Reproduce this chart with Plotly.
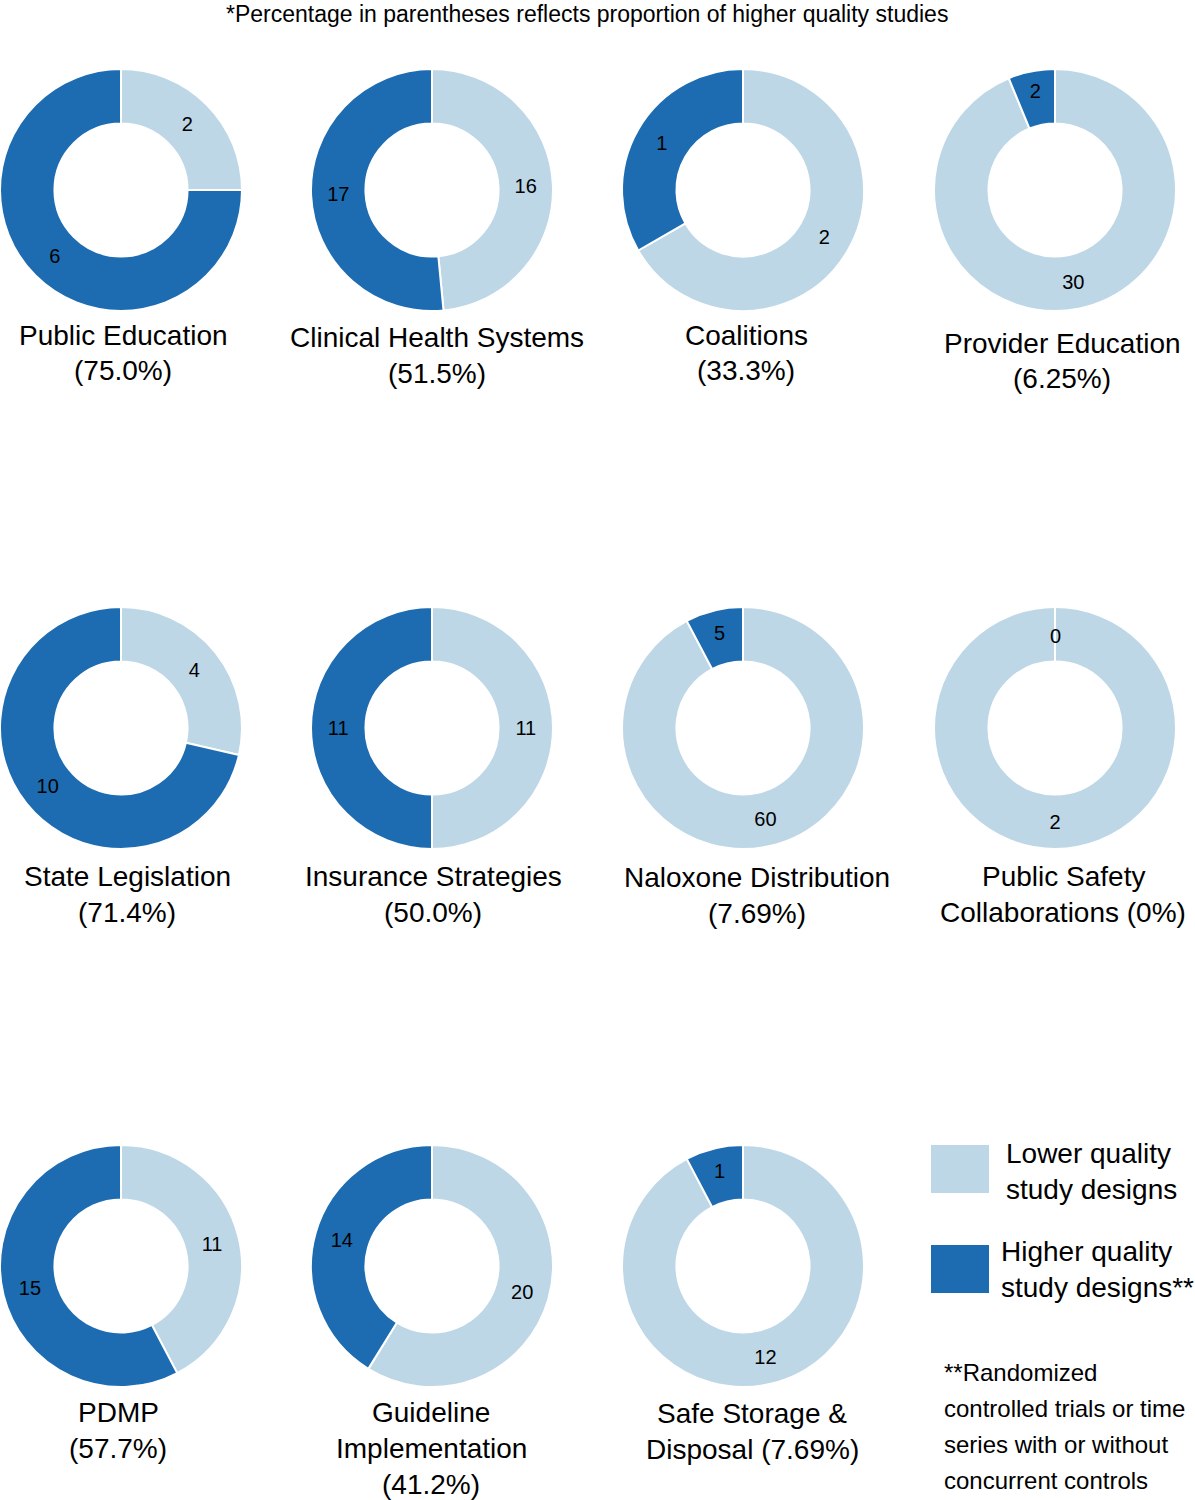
import plotly.graph_objects as go

W, H = 1195, 1500

categories = ["Public Education", "Clinical Health Systems", "Coalitions", "Provider Education",
              "State Legislation", "Insurance Strategies", "Naloxone Distribution", "Public Safety Collaborations",
              "PDMP", "Guideline Implementation", "Safe Storage & Disposal"]
title_lines = [["Public Education", "(75.0%)"],
               ["Clinical Health Systems", "(51.5%)"],
               ["Coalitions", "(33.3%)"],
               ["Provider Education", "(6.25%)"],
               ["State Legislation", "(71.4%)"],
               ["Insurance Strategies", "(50.0%)"],
               ["Naloxone Distribution", "(7.69%)"],
               ["Public Safety", "Collaborations (0%)"],
               ["PDMP", "(57.7%)"],
               ["Guideline", "Implementation", "(41.2%)"],
               ["Safe Storage &", "Disposal (7.69%)"]]
lower_quality = [2, 16, 2, 30, 4, 11, 60, 2, 11, 20, 12]
higher_quality = [6, 17, 1, 2, 10, 11, 5, 0, 15, 14, 1]
series_names = ["Lower quality study designs", "Higher quality study designs**"]

LIGHT = "#BDD7E7"
DARK = "#1D6CB1"
FONT = "Liberation Sans, Arial, sans-serif"

# layout (pixels)
col_cx = [121, 432, 743, 1055]
row_cy = [190, 728, 1266]
R = 121
title_x = [123, 437, 746, 1062, 127, 433, 757, 1063, 118, 431, 752]
title_y0 = [335, 337, 335, 343, 876, 876, 877, 876, 1412, 1412, 1413]
LINE_H = 36

fig = go.Figure()
for i, cat in enumerate(categories):
    r, c = divmod(i, 4)
    cx, cy = col_cx[c], row_cy[r]
    fig.add_trace(go.Pie(
        labels=series_names,
        values=[lower_quality[i], higher_quality[i]],
        sort=False,
        direction="clockwise",
        rotation=0,
        hole=0.55,
        marker=dict(colors=[LIGHT, DARK], line=dict(color="white", width=2)),
        textinfo="value",
        textposition="inside",
        insidetextorientation="horizontal",
        textfont=dict(size=20, color="black", family=FONT),
        domain=dict(x=[(cx - R) / W, (cx + R) / W], y=[1 - (cy + R) / H, 1 - (cy - R) / H]),
        showlegend=False,
        name=cat,
    ))
    # zero-valued slice: plotly draws no label, so write it at the slice's start (12 o'clock)
    if higher_quality[i] == 0:
        fig.add_annotation(x=cx / W, y=1 - (cy - 92) / H, xref="paper", yref="paper",
                           text=str(higher_quality[i]), showarrow=False,
                           xanchor="center", yanchor="middle",
                           font=dict(size=20, color="black", family=FONT))
    for k, line in enumerate(title_lines[i]):
        fig.add_annotation(x=title_x[i] / W, y=1 - (title_y0[i] + k * LINE_H) / H,
                           xref="paper", yref="paper", text=line, showarrow=False,
                           xanchor="center", yanchor="middle",
                           font=dict(size=28, color="black", family=FONT))

# top note
fig.add_annotation(x=587 / W, y=1 - 14 / H, xref="paper", yref="paper",
                   text="*Percentage in parentheses reflects proportion of higher quality studies",
                   showarrow=False, xanchor="center", yanchor="middle", borderpad=0,
                   font=dict(size=23, color="black", family="Liberation Sans Narrow, Arial Narrow, " + FONT))

# legend
legend_items = [(LIGHT, 1145, 1193, 1004, ["Lower quality", "study designs"], 1153),
                (DARK, 1245, 1293, 999, ["Higher quality", "study designs**"], 1251)]
for color, y0, y1, tx, lines, ty in legend_items:
    fig.add_shape(type="rect", xref="paper", yref="paper",
                  x0=931 / W, x1=989 / W, y0=1 - y1 / H, y1=1 - y0 / H,
                  fillcolor=color, line=dict(width=0))
    for k, line in enumerate(lines):
        fig.add_annotation(x=tx / W, y=1 - (ty + k * 36) / H, xref="paper", yref="paper",
                           text=line, showarrow=False, xanchor="left", yanchor="middle",
                           font=dict(size=28, color="black", family=FONT))

foot_lines = ["**Randomized", "controlled trials or time", "series with or without", "concurrent controls"]
for k, line in enumerate(foot_lines):
    fig.add_annotation(x=942 / W, y=1 - (1372 + k * 36) / H, xref="paper", yref="paper",
                       text=line, showarrow=False, xanchor="left", yanchor="middle",
                       font=dict(size=24, color="black", family=FONT))

fig.update_layout(width=W, height=H, margin=dict(l=0, r=0, t=0, b=0),
                  paper_bgcolor="white", plot_bgcolor="white",
                  font=dict(family=FONT, color="black"))

fig.write_html("out.html", config={"displayModeBar": False},
               post_script="document.body.style.margin='0';")
